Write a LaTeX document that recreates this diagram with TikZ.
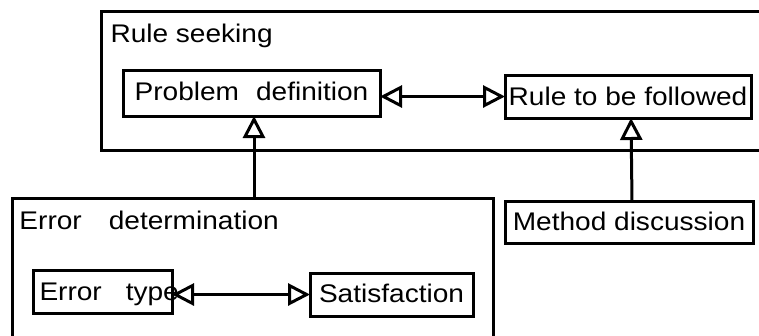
\documentclass[tikz,border=0pt]{standalone}
\usepackage{fontspec}
\setmainfont{Liberation Sans}[FakeStretch=1.1]
\usetikzlibrary{arrows.meta,calc}
\begin{document}
\begin{tikzpicture}[x=1pt,y=-1pt,
  font=\fontsize{25.5}{30}\selectfont,
  line width=3pt,
  frame/.style={draw,line width=3pt},
  box/.style={draw,line width=3pt,anchor=north west,inner xsep=0pt,inner ysep=0pt,outer sep=0pt},
  title/.style={anchor=base west,inner sep=0pt},
  head/.tip={Triangle[open,length=22pt,width=22pt,line width=3pt]},
  tip/.style={-head},
  twotip/.style={head-head}
]
\useasboundingbox (0,0) rectangle (759,335);
\begin{scope}
\clip (0,0) rectangle (759,335);
% container frames (they run past the page edge)
\draw[frame] (101,11) rectangle (775,150);
\draw[frame] (12,198) rectangle (493,350);
\end{scope}

\node[title] (rs) at (109,42) {Rule seeking};
\node[title] (ed) at (18,229) {Error\hspace{27pt}determination};

% inner boxes
\node[box,minimum width=257pt,text height=30pt,text depth=16pt] (pd) at (123,70) {Problem\hspace{17pt}definition};
\node[box,minimum width=246pt,text height=30pt,text depth=13pt] (rf) at (505,75) {Rule to be followed};
\node[box,minimum width=248pt,text height=29pt,text depth=13pt] (md) at (505,201) {Method discussion};
\node[box,minimum width=139pt,text height=30pt,text depth=13pt] (et) at (33,270)
  {\makebox[139pt][l]{\hspace{6.5pt}Error\hspace{24pt}type}};
\node[box,minimum width=163pt,text height=29pt,text depth=14pt] (sa) at (310,273) {Satisfaction};

% top edge of the error group, start of the upward link
\coordinate (edtop) at (254,198);

% connectors
\draw[twotip] (pd.east |- rf.west) -- (rf.west);
\draw[twotip] (et.east |- sa.west) -- (sa.west);
\draw[tip] (edtop) -- (edtop |- pd.south);
\draw[tip] ([xshift=3pt]md.north) -- ([xshift=3pt]rf.south);
\end{tikzpicture}
\end{document}
